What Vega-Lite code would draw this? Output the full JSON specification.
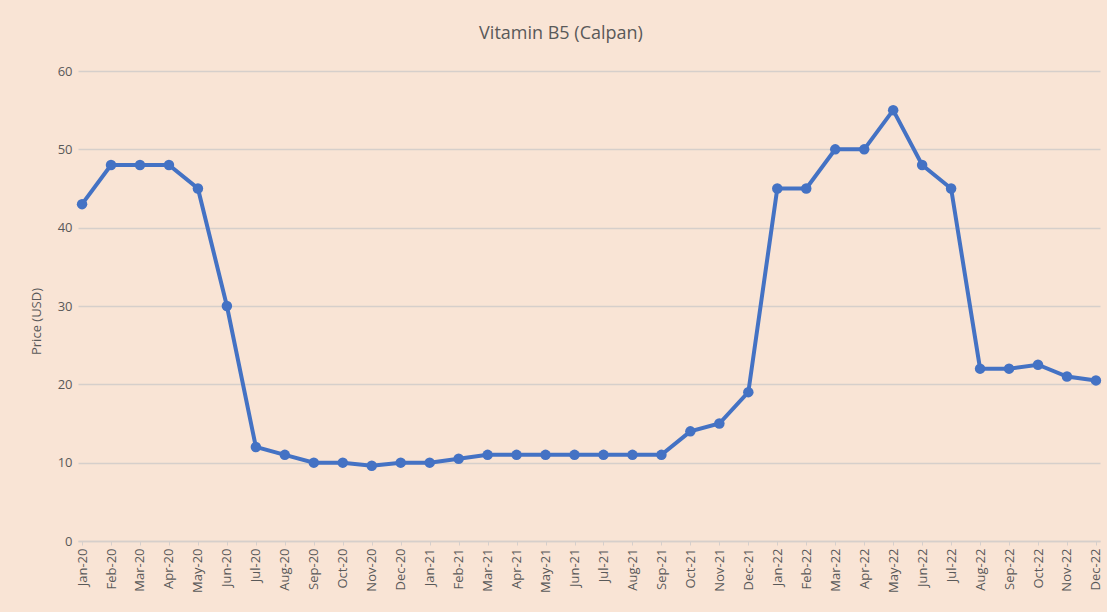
{
  "$schema": "https://vega.github.io/schema/vega-lite/v6.json",
  "width": 1022,
  "height": 470,
  "autosize": {"type": "none"},
  "padding": {"left": 78, "top": 71, "right": 7, "bottom": 71},
  "background": "#F9E4D5",
  "title": {
    "text": "Vitamin B5 (Calpan)",
    "font": "Open Sans",
    "fontSize": 18,
    "fontWeight": "normal",
    "color": "#595959",
    "anchor": "middle",
    "dx": -28,
    "offset": 22
  },
  "config": {
    "view": {"stroke": null},
    "font": "Open Sans"
  },
  "data": {
    "values": [
      {"month": "Jan-20", "price": 43},
      {"month": "Feb-20", "price": 48},
      {"month": "Mar-20", "price": 48},
      {"month": "Apr-20", "price": 48},
      {"month": "May-20", "price": 45},
      {"month": "Jun-20", "price": 30},
      {"month": "Jul-20", "price": 12},
      {"month": "Aug-20", "price": 11},
      {"month": "Sep-20", "price": 10},
      {"month": "Oct-20", "price": 10},
      {"month": "Nov-20", "price": 9.6},
      {"month": "Dec-20", "price": 10},
      {"month": "Jan-21", "price": 10},
      {"month": "Feb-21", "price": 10.5},
      {"month": "Mar-21", "price": 11},
      {"month": "Apr-21", "price": 11},
      {"month": "May-21", "price": 11},
      {"month": "Jun-21", "price": 11},
      {"month": "Jul-21", "price": 11},
      {"month": "Aug-21", "price": 11},
      {"month": "Sep-21", "price": 11},
      {"month": "Oct-21", "price": 14},
      {"month": "Nov-21", "price": 15},
      {"month": "Dec-21", "price": 19},
      {"month": "Jan-22", "price": 45},
      {"month": "Feb-22", "price": 45},
      {"month": "Mar-22", "price": 50},
      {"month": "Apr-22", "price": 50},
      {"month": "May-22", "price": 55},
      {"month": "Jun-22", "price": 48},
      {"month": "Jul-22", "price": 45},
      {"month": "Aug-22", "price": 22},
      {"month": "Sep-22", "price": 22},
      {"month": "Oct-22", "price": 22.5},
      {"month": "Nov-22", "price": 21},
      {"month": "Dec-22", "price": 20.5}
    ]
  },
  "encoding": {
    "x": {
      "field": "month",
      "type": "ordinal",
      "sort": null,
      "scale": {"type": "point", "padding": 0.14},
      "axis": {
        "title": null,
        "labelAngle": -90,
        "labelAlign": "right",
        "labelBaseline": "middle",
        "labelFontSize": 13,
        "labelColor": "#595959",
        "labelPadding": 3,
        "domainColor": "#D6CFCB",
        "domainWidth": 1.5,
        "tickColor": "#D6CFCB",
        "tickSize": 4,
        "grid": false
      }
    },
    "y": {
      "field": "price",
      "type": "quantitative",
      "scale": {"domain": [0, 60], "nice": false},
      "axis": {
        "title": "Price (USD)",
        "titleFontSize": 13,
        "titleFontWeight": "normal",
        "titleColor": "#595959",
        "titlePadding": 14,
        "titleY": 250,
        "values": [0, 10, 20, 30, 40, 50, 60],
        "labelFontSize": 13,
        "labelColor": "#595959",
        "labelPadding": 6,
        "ticks": false,
        "domain": false,
        "grid": true,
        "gridColor": "#D6CFCB",
        "gridWidth": 1.5
      }
    }
  },
  "layer": [
    {"mark": {"type": "line", "color": "#4472C4", "strokeWidth": 4}},
    {"mark": {"type": "point", "filled": true, "color": "#4472C4", "size": 110, "opacity": 1}}
  ]
}
